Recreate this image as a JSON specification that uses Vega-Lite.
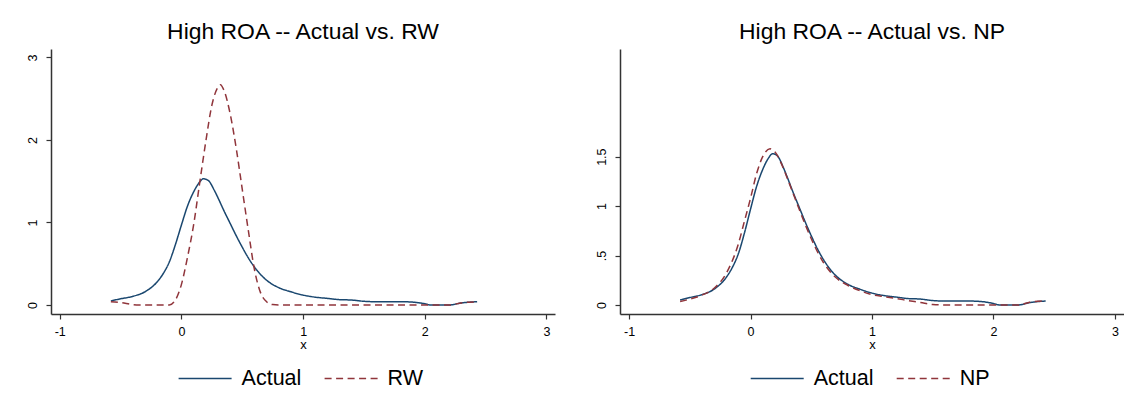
{
  "$schema": "https://vega.github.io/schema/vega-lite/v6.json",
  "background": "white",
  "padding": {"left": 26, "top": 20, "right": 0, "bottom": 0},
  "spacing": 40,
  "datasets": {
    "curves": [
      {"x": -0.58, "y": 0.05, "s": "Actual"},
      {"x": -0.5, "y": 0.075, "s": "Actual"},
      {"x": -0.4, "y": 0.105, "s": "Actual"},
      {"x": -0.3, "y": 0.16, "s": "Actual"},
      {"x": -0.2, "y": 0.28, "s": "Actual"},
      {"x": -0.15, "y": 0.38, "s": "Actual"},
      {"x": -0.1, "y": 0.52, "s": "Actual"},
      {"x": -0.05, "y": 0.73, "s": "Actual"},
      {"x": 0.0, "y": 0.97, "s": "Actual"},
      {"x": 0.05, "y": 1.2, "s": "Actual"},
      {"x": 0.1, "y": 1.37, "s": "Actual"},
      {"x": 0.15, "y": 1.49, "s": "Actual"},
      {"x": 0.18, "y": 1.53, "s": "Actual"},
      {"x": 0.22, "y": 1.51, "s": "Actual"},
      {"x": 0.27, "y": 1.39, "s": "Actual"},
      {"x": 0.3, "y": 1.3, "s": "Actual"},
      {"x": 0.35, "y": 1.14, "s": "Actual"},
      {"x": 0.4, "y": 0.99, "s": "Actual"},
      {"x": 0.45, "y": 0.84, "s": "Actual"},
      {"x": 0.5, "y": 0.7, "s": "Actual"},
      {"x": 0.55, "y": 0.57, "s": "Actual"},
      {"x": 0.6, "y": 0.46, "s": "Actual"},
      {"x": 0.65, "y": 0.37, "s": "Actual"},
      {"x": 0.7, "y": 0.3, "s": "Actual"},
      {"x": 0.8, "y": 0.21, "s": "Actual"},
      {"x": 0.9, "y": 0.16, "s": "Actual"},
      {"x": 1.0, "y": 0.12, "s": "Actual"},
      {"x": 1.1, "y": 0.095, "s": "Actual"},
      {"x": 1.2, "y": 0.08, "s": "Actual"},
      {"x": 1.3, "y": 0.065, "s": "Actual"},
      {"x": 1.4, "y": 0.06, "s": "Actual"},
      {"x": 1.5, "y": 0.045, "s": "Actual"},
      {"x": 1.6, "y": 0.04, "s": "Actual"},
      {"x": 1.7, "y": 0.04, "s": "Actual"},
      {"x": 1.8, "y": 0.04, "s": "Actual"},
      {"x": 1.9, "y": 0.035, "s": "Actual"},
      {"x": 2.0, "y": 0.015, "s": "Actual"},
      {"x": 2.05, "y": 0.0, "s": "Actual"},
      {"x": 2.2, "y": 0.0, "s": "Actual"},
      {"x": 2.3, "y": 0.025, "s": "Actual"},
      {"x": 2.43, "y": 0.04, "s": "Actual"},

      {"x": -0.58, "y": 0.04, "s": "RW"},
      {"x": -0.5, "y": 0.03, "s": "RW"},
      {"x": -0.4, "y": 0.005, "s": "RW"},
      {"x": -0.35, "y": 0.0, "s": "RW"},
      {"x": -0.1, "y": 0.0, "s": "RW"},
      {"x": -0.05, "y": 0.06, "s": "RW"},
      {"x": 0.0, "y": 0.25, "s": "RW"},
      {"x": 0.05, "y": 0.58, "s": "RW"},
      {"x": 0.1, "y": 0.97, "s": "RW"},
      {"x": 0.15, "y": 1.48, "s": "RW"},
      {"x": 0.2, "y": 1.98, "s": "RW"},
      {"x": 0.25, "y": 2.42, "s": "RW"},
      {"x": 0.3, "y": 2.64, "s": "RW"},
      {"x": 0.32, "y": 2.67, "s": "RW"},
      {"x": 0.35, "y": 2.6, "s": "RW"},
      {"x": 0.4, "y": 2.32, "s": "RW"},
      {"x": 0.45, "y": 1.9, "s": "RW"},
      {"x": 0.5, "y": 1.4, "s": "RW"},
      {"x": 0.55, "y": 0.9, "s": "RW"},
      {"x": 0.6, "y": 0.43, "s": "RW"},
      {"x": 0.65, "y": 0.15, "s": "RW"},
      {"x": 0.7, "y": 0.04, "s": "RW"},
      {"x": 0.75, "y": 0.005, "s": "RW"},
      {"x": 0.8, "y": 0.0, "s": "RW"},
      {"x": 2.2, "y": 0.0, "s": "RW"},
      {"x": 2.3, "y": 0.025, "s": "RW"},
      {"x": 2.43, "y": 0.04, "s": "RW"},

      {"x": -0.58, "y": 0.035, "s": "NP"},
      {"x": -0.5, "y": 0.06, "s": "NP"},
      {"x": -0.4, "y": 0.1, "s": "NP"},
      {"x": -0.3, "y": 0.17, "s": "NP"},
      {"x": -0.2, "y": 0.32, "s": "NP"},
      {"x": -0.1, "y": 0.62, "s": "NP"},
      {"x": -0.05, "y": 0.85, "s": "NP"},
      {"x": 0.0, "y": 1.08, "s": "NP"},
      {"x": 0.05, "y": 1.33, "s": "NP"},
      {"x": 0.1, "y": 1.5, "s": "NP"},
      {"x": 0.16, "y": 1.58, "s": "NP"},
      {"x": 0.2, "y": 1.55, "s": "NP"},
      {"x": 0.25, "y": 1.44, "s": "NP"},
      {"x": 0.3, "y": 1.29, "s": "NP"},
      {"x": 0.35, "y": 1.13, "s": "NP"},
      {"x": 0.4, "y": 0.97, "s": "NP"},
      {"x": 0.5, "y": 0.67, "s": "NP"},
      {"x": 0.6, "y": 0.43, "s": "NP"},
      {"x": 0.7, "y": 0.28, "s": "NP"},
      {"x": 0.8, "y": 0.2, "s": "NP"},
      {"x": 0.9, "y": 0.145, "s": "NP"},
      {"x": 1.0, "y": 0.105, "s": "NP"},
      {"x": 1.1, "y": 0.085, "s": "NP"},
      {"x": 1.2, "y": 0.065, "s": "NP"},
      {"x": 1.3, "y": 0.045, "s": "NP"},
      {"x": 1.4, "y": 0.025, "s": "NP"},
      {"x": 1.5, "y": 0.005, "s": "NP"},
      {"x": 1.6, "y": 0.0, "s": "NP"},
      {"x": 2.2, "y": 0.0, "s": "NP"},
      {"x": 2.3, "y": 0.028, "s": "NP"},
      {"x": 2.43, "y": 0.044, "s": "NP"}
    ]
  },
  "data": {"name": "curves"},
  "hconcat": [
    {
      "title": {"text": "High ROA -- Actual vs. RW"},
      "width": 504,
      "height": 265,
      "transform": [{"filter": "datum.s !== 'NP'"}],
      "mark": {"type": "line", "interpolate": "monotone", "strokeWidth": 1.5, "clip": true},
      "encoding": {
        "x": {"field": "x", "type": "quantitative",
          "scale": {"domain": [-1.072, 3.07], "nice": false, "zero": false},
          "axis": {"values": [-1, 0, 1, 2, 3], "title": "x", "labelExpr": "toString(datum.value)"}},
        "y": {"field": "y", "type": "quantitative",
          "scale": {"domain": [-0.109, 3.102], "nice": false, "zero": false},
          "axis": {"values": [0, 1, 2, 3], "title": null, "labelExpr": "toString(datum.value)"}},
        "order": {"field": "x", "type": "quantitative"},
        "color": {"field": "s", "type": "nominal",
          "scale": {"domain": ["Actual", "RW"], "range": ["#1a476f", "#90353b"]},
          "legend": {"orient": "none", "legendX": 126.6, "legendY": 302, "direction": "horizontal", "title": null}},
        "strokeDash": {"field": "s", "type": "nominal",
          "scale": {"domain": ["Actual", "RW"], "range": [[1, 0], [7, 4.5]]},
          "legend": {"orient": "none", "legendX": 126.6, "legendY": 302, "direction": "horizontal", "title": null}}
      }
    },
    {
      "title": {"text": "High ROA -- Actual vs. NP"},
      "width": 504,
      "height": 265,
      "transform": [{"filter": "datum.s !== 'RW'"}],
      "mark": {"type": "line", "interpolate": "monotone", "strokeWidth": 1.5, "clip": true},
      "encoding": {
        "x": {"field": "x", "type": "quantitative",
          "scale": {"domain": [-1.075, 3.075], "nice": false, "zero": false},
          "axis": {"values": [-1, 0, 1, 2, 3], "title": "x", "labelExpr": "toString(datum.value)"}},
        "y": {"field": "y", "type": "quantitative",
          "scale": {"domain": [-0.091, 2.589], "nice": false, "zero": false},
          "axis": {"values": [0, 0.5, 1, 1.5], "title": null, "labelExpr": "datum.value == 0.5 ? '.5' : toString(datum.value)"}},
        "order": {"field": "x", "type": "quantitative"},
        "color": {"field": "s", "type": "nominal",
          "scale": {"domain": ["Actual", "NP"], "range": ["#1a476f", "#90353b"]},
          "legend": {"orient": "none", "legendX": 129.7, "legendY": 302, "direction": "horizontal", "title": null}},
        "strokeDash": {"field": "s", "type": "nominal",
          "scale": {"domain": ["Actual", "NP"], "range": [[1, 0], [7, 4.5]]},
          "legend": {"orient": "none", "legendX": 129.7, "legendY": 302, "direction": "horizontal", "title": null}}
      }
    }
  ],
  "resolve": {
    "scale": {"x": "independent", "y": "independent", "color": "independent", "strokeDash": "independent"},
    "legend": {"color": "independent", "strokeDash": "independent"}
  },
  "config": {
    "font": "Liberation Sans",
    "view": {"stroke": null},
    "axis": {
      "grid": false,
      "domainColor": "#333333",
      "domainWidth": 1.5,
      "tickColor": "#333333",
      "tickWidth": 1.2,
      "tickSize": 5,
      "labelFont": "Liberation Sans",
      "labelFontSize": 12.5,
      "labelColor": "#000000",
      "titleFont": "Liberation Sans",
      "titleFontSize": 13,
      "titleFontWeight": "normal",
      "titleColor": "#000000"
    },
    "axisX": {"labelPadding": 6, "titlePadding": 1},
    "axisY": {"labelAngle": 270, "labelAlign": "center", "labelBaseline": "bottom", "labelPadding": 7},
    "title": {"font": "Liberation Sans", "fontSize": 22.9, "fontWeight": "normal", "color": "#000000", "anchor": "middle", "baseline": "alphabetic", "offset": 5.6},
    "legend": {
      "symbolType": "stroke",
      "symbolSize": 2809,
      "symbolStrokeWidth": 1.5,
      "labelFont": "Liberation Sans",
      "labelFontSize": 21.5,
      "labelColor": "#000000",
      "labelOffset": 9,
      "columnPadding": 20,
      "padding": 0
    }
  }
}
